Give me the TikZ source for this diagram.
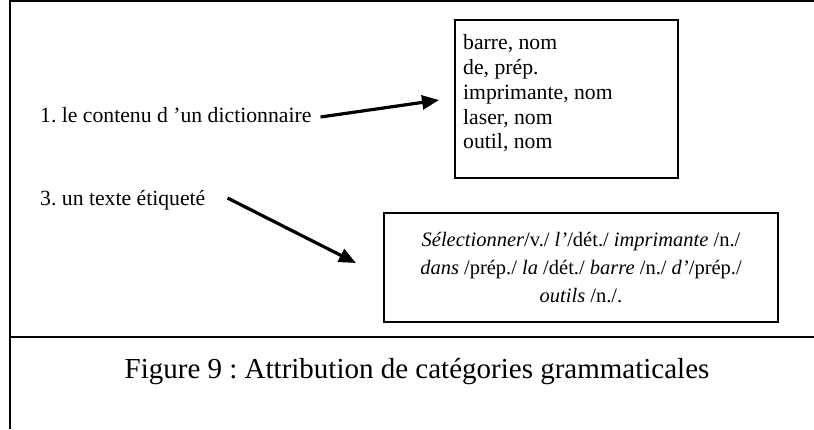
\documentclass[tikz,border=0pt]{standalone}
\usepackage{fontspec}
\setmainfont{Liberation Serif}
\usetikzlibrary{arrows.meta,calc}
\frenchspacing

\tikzset{
  frameline/.style={line width=2pt, black},
  boxnode/.style={draw, line width=2pt, inner sep=0pt},
  bodytext/.style={font=\fontsize{21.7}{24.8}\selectfont, inner sep=0pt},
  pointer/.style={line width=3.2pt, -{Triangle[length=17pt,width=14pt]}},
}

\begin{document}
\begin{tikzpicture}[x=1pt,y=-1pt]
  \useasboundingbox (0,0) rectangle (814,429);

  % outer frame: top rule, left rule and the caption divider
  \draw[frameline] (814,1) -- (9.5,1) -- (9.5,429);
  \draw[frameline] (9.5,337) -- (814,337);

  % lexicon box
  \node[boxnode, minimum width=223pt, minimum height=158pt] (dict) at (566.5,99) {};
  \node[bodytext, align=left, anchor=west] (dicttext) at (463,93.5)
    {barre, nom\\de, prép.\\imprimante, nom\\laser, nom\\outil, nom};

  % tagged sentence box
  \node[boxnode, minimum width=394pt, minimum height=109pt] (tag) at (581,267.5) {};
  \node[inner sep=0pt, align=center, font=\fontsize{20.5}{28}\selectfont] (tagtext) at (581,268)
    {\textit{Sélectionner}/v./ \textit{l’}/dét./ \textit{imprimante} /n./\\
     \textit{dans} /prép./ \textit{la} /dét./ \textit{barre} /n./ \textit{d’}/prép./\\
     \textit{outils} /n./.};

  % left-hand labels
  \node[bodytext, anchor=west] (lex) at (40,115) {1. le contenu d ’un dictionnaire};
  \node[bodytext, anchor=west] (txt) at (40,200) {3. un texte étiqueté};

  % arrows from labels to boxes
  \draw[pointer] ($(lex.east)+(9,2)$) -- ($(dict.west)+(-15,1)$);
  \draw[pointer] ($(txt.east)+(22,-2)$) -- ($(tag.west)+(-27,-4.5)$);

  % caption
  \node[font=\fontsize{29}{32}\selectfont, inner sep=0pt] (caption) at (417,372)
    {Figure 9 : Attribution de catégories grammaticales};
\end{tikzpicture}
\end{document}
